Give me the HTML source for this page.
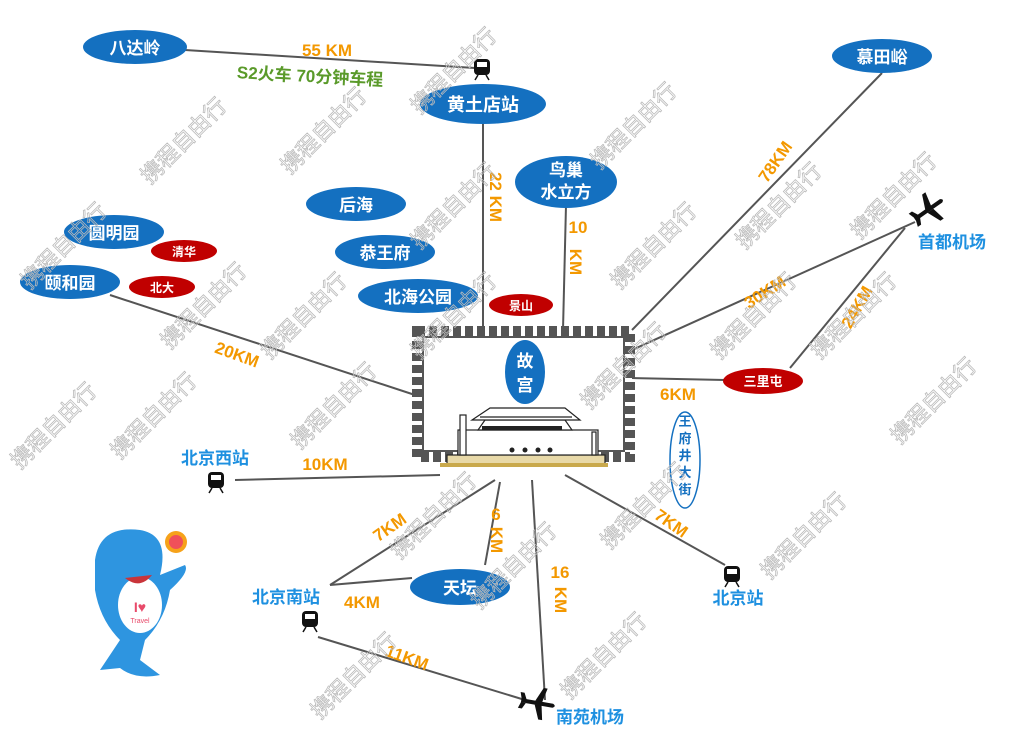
<!DOCTYPE html>
<html><head><meta charset="utf-8"><style>
html,body{margin:0;padding:0;background:#fff;}
svg{display:block;font-family:"Liberation Sans","Noto Sans CJK SC",sans-serif;}
.b{fill:#1470c0}
.r{fill:#c00000}
.wt{fill:#fff;font-weight:bold;text-anchor:middle}
.o{fill:#f39800;font-weight:bold;font-size:17px;text-anchor:middle}
.bl{fill:#1e90e0;font-weight:bold;font-size:17px;text-anchor:middle}
.ln{stroke:#555;stroke-width:2;fill:none}
.wm{fill:none;stroke:#bbb;stroke-width:0.8;font-size:22px}
</style></head><body>
<svg width="1019" height="732" viewBox="0 0 1019 732">
<!-- lines -->
<line class="ln" x1="185" y1="50" x2="475" y2="68"/>
<line class="ln" x1="483" y1="124" x2="483" y2="328"/>
<line class="ln" x1="882" y1="73" x2="632" y2="330"/>
<line class="ln" x1="566" y1="205" x2="563" y2="330"/>
<line class="ln" x1="110" y1="295" x2="415" y2="395"/>
<line class="ln" x1="632" y1="350" x2="915" y2="222"/>
<line class="ln" x1="632" y1="378" x2="725" y2="380"/>
<line class="ln" x1="790" y1="368" x2="905" y2="228"/>
<line class="ln" x1="565" y1="475" x2="725" y2="565"/>
<line class="ln" x1="235" y1="480" x2="440" y2="475"/>
<line class="ln" x1="495" y1="480" x2="330" y2="585"/>
<line class="ln" x1="330" y1="585" x2="412" y2="578"/>
<line class="ln" x1="500" y1="482" x2="485" y2="565"/>
<line class="ln" x1="318" y1="637" x2="525" y2="700"/>
<line class="ln" x1="532" y1="480" x2="545" y2="700"/>

<!-- frame -->
<rect x="417" y="331" width="213" height="126" fill="#fff" stroke="#555" stroke-width="10" stroke-dasharray="8,4"/>
<rect x="423" y="337" width="201" height="114" fill="#fff" stroke="#555" stroke-width="2"/>
<ellipse class="b" cx="525" cy="372" rx="20" ry="32"/>
<text class="wt" x="525" y="367" font-size="17">故</text>
<text class="wt" x="525" y="391" font-size="17">宫</text>
<!-- tiananmen -->
<g stroke="#222" stroke-width="1.2" fill="#fff">
<rect x="447" y="455" width="158" height="10" fill="#e8d9a8"/>
<rect x="458" y="430" width="140" height="25"/>
<path d="M478 430 L572 430 L565 420 L485 420 Z"/>
<path d="M472 420 L580 420 L565 408 L490 408 Z"/>
<path d="M480 417 L572 417" />
<rect x="460" y="415" width="6" height="40"/>
<rect x="592" y="432" width="4" height="23"/>
</g>
<g fill="#222"><rect x="482" y="426" width="80" height="4"/><circle cx="525" cy="450" r="2.5"/><circle cx="538" cy="450" r="2.5"/><circle cx="512" cy="450" r="2.5"/><circle cx="550" cy="450" r="2.5"/></g>
<rect x="440" y="463" width="168" height="4" fill="#c9a94c"/>

<!-- ellipses -->
<ellipse class="b" cx="135" cy="47" rx="52" ry="17"/><text class="wt" x="135" y="54" font-size="17">八达岭</text>
<ellipse class="b" cx="483" cy="104" rx="63" ry="20"/><text class="wt" x="483" y="111" font-size="18">黄土店站</text>
<ellipse class="b" cx="882" cy="56" rx="50" ry="17"/><text class="wt" x="882" y="63" font-size="17">慕田峪</text>
<ellipse class="b" cx="566" cy="182" rx="51" ry="26"/><text class="wt" x="566" y="176" font-size="17">鸟巢</text><text class="wt" x="566" y="198" font-size="17">水立方</text>
<ellipse class="b" cx="356" cy="204" rx="50" ry="17"/><text class="wt" x="356" y="211" font-size="17">后海</text>
<ellipse class="b" cx="385" cy="252" rx="50" ry="17"/><text class="wt" x="385" y="259" font-size="17">恭王府</text>
<ellipse class="b" cx="418" cy="296" rx="60" ry="17"/><text class="wt" x="418" y="303" font-size="17">北海公园</text>
<ellipse class="r" cx="521" cy="305" rx="32" ry="11"/><text class="wt" x="521" y="310" font-size="12">景山</text>
<ellipse class="b" cx="114" cy="232" rx="50" ry="17"/><text class="wt" x="114" y="239" font-size="17">圆明园</text>
<ellipse class="r" cx="184" cy="251" rx="33" ry="11"/><text class="wt" x="184" y="256" font-size="12">清华</text>
<ellipse class="b" cx="70" cy="282" rx="50" ry="17"/><text class="wt" x="70" y="289" font-size="17">颐和园</text>
<ellipse class="r" cx="162" cy="287" rx="33" ry="11"/><text class="wt" x="162" y="292" font-size="12">北大</text>
<ellipse class="r" cx="763" cy="381" rx="40" ry="13"/><text class="wt" x="763" y="386" font-size="13">三里屯</text>
<ellipse cx="685" cy="460" rx="15" ry="48" fill="#fff" stroke="#1470c0" stroke-width="1.5"/>
<g fill="#1470c0" font-size="13" font-weight="bold" text-anchor="middle"><text x="685" y="426">王</text><text x="685" y="443">府</text><text x="685" y="460">井</text><text x="685" y="477">大</text><text x="685" y="494">街</text></g>

<!-- labels -->
<text class="o" x="327" y="56">55 KM</text>
<text x="310" y="82" fill="#5a9a2a" font-weight="bold" font-size="17" text-anchor="middle" transform="rotate(3 310 78)">S2火车 70分钟车程</text>
<text class="o" transform="translate(490,197) rotate(90)" text-anchor="start" x="0" y="0">22 KM</text>
<text class="o" x="578" y="233">10</text>
<text class="o" transform="translate(570,250) rotate(90)" x="12" y="0">KM</text>
<text class="o" transform="translate(780,165) rotate(-55)">78KM</text>
<text class="o" transform="translate(235,360) rotate(20)">20KM</text>
<text class="o" transform="translate(768,297) rotate(-33)">30KM</text>
<text class="o" transform="translate(862,310) rotate(-60)">24KM</text>
<text class="o" x="678" y="400">6KM</text>
<text class="o" transform="translate(668,528) rotate(35)">7KM</text>
<text class="o" x="325" y="470">10KM</text>
<text class="o" transform="translate(393,532) rotate(-35)">7KM</text>
<text class="o" x="496" y="520">6</text>
<text class="o" transform="translate(491,528) rotate(90)" x="12" y="0">KM</text>
<text class="o" x="362" y="608">4KM</text>
<text class="o" transform="translate(405,663) rotate(20)">11KM</text>
<text class="o" x="560" y="578">16</text>
<text class="o" transform="translate(555,586) rotate(90)" x="14" y="0">KM</text>

<!-- blue place names -->
<text class="bl" x="952" y="248">首都机场</text>
<text class="bl" x="738" y="604">北京站</text>
<text class="bl" x="215" y="464">北京西站</text>
<text class="bl" x="286" y="603">北京南站</text>
<text class="bl" x="590" y="723">南苑机场</text>
<ellipse class="b" cx="460" cy="587" rx="50" ry="18"/><text class="wt" x="460" y="594" font-size="17">天坛</text>

<!-- trains -->
<g fill="#111">
<rect x="474" y="59" width="16" height="16" rx="4"/><rect x="217" y="472" width="16" height="16" rx="4" transform="translate(-9 0)"/>
<rect x="724" y="566" width="16" height="16" rx="4"/><rect x="302" y="611" width="16" height="16" rx="4"/>
</g>
<g fill="#fff"><rect x="477" y="62" width="10" height="5"/><rect x="211" y="475" width="10" height="5"/><rect x="727" y="569" width="10" height="5"/><rect x="305" y="614" width="10" height="5"/></g>
<g stroke="#111" stroke-width="1.5"><path d="M475 80 L478 75 M489 80 L486 75 M209 493 L212 488 M223 493 L220 488 M725 587 L728 582 M739 587 L736 582 M303 632 L306 627 M317 632 L314 627"/></g>

<!-- planes -->
<g fill="#111">
<path transform="translate(928,210) rotate(-35)" d="M-16 -2 L16 -2 Q20 0 16 2 L-16 2 Z M-2 -2 L4 -16 L8 -16 L5 -2 Z M-2 2 L4 16 L8 16 L5 2 Z M-16 -2 L-18 -8 L-14 -8 L-11 -2 Z M-16 2 L-18 8 L-14 8 L-11 2Z"/>
<path transform="translate(537,703) rotate(10)" d="M-16 -2 L16 -2 Q20 0 16 2 L-16 2 Z M-2 -2 L4 -16 L8 -16 L5 -2 Z M-2 2 L4 16 L8 16 L5 2 Z M-16 -2 L-18 -8 L-14 -8 L-11 -2 Z M-16 2 L-18 8 L-14 8 L-11 2Z"/>
</g>

<!-- dolphin -->
<g>
<path d="M95 560 Q100 525 140 530 Q170 535 160 575 L185 565 Q190 572 170 590 Q165 620 145 640 L140 660 L160 675 Q135 680 120 668 L100 670 Q110 655 120 640 Q100 620 95 590 Z" fill="#2e95e0"/>
<ellipse cx="140" cy="605" rx="22" ry="28" fill="#fff"/>
<text x="140" y="612" font-size="14" font-weight="bold" fill="#e84a6a" text-anchor="middle">I♥</text>
<text x="140" y="623" font-size="7" fill="#e84a6a" text-anchor="middle">Travel</text>
<path d="M125 578 Q140 590 152 575 Z" fill="#c9343a"/>
<circle cx="176" cy="542" r="11" fill="#f6a21a"/><circle cx="176" cy="542" r="7" fill="#f0505a"/>
</g>

<!-- watermarks -->
<g class="wm">
<text transform="translate(150,185) rotate(-45)">携程自由行</text>
<text transform="translate(290,175) rotate(-45)">携程自由行</text>
<text transform="translate(420,115) rotate(-45)">携程自由行</text>
<text transform="translate(600,170) rotate(-45)">携程自由行</text>
<text transform="translate(620,290) rotate(-45)">携程自由行</text>
<text transform="translate(745,250) rotate(-45)">携程自由行</text>
<text transform="translate(860,240) rotate(-45)">携程自由行</text>
<text transform="translate(30,290) rotate(-45)">携程自由行</text>
<text transform="translate(170,350) rotate(-45)">携程自由行</text>
<text transform="translate(270,360) rotate(-45)">携程自由行</text>
<text transform="translate(420,360) rotate(-45)">携程自由行</text>
<text transform="translate(420,250) rotate(-45)">携程自由行</text>
<text transform="translate(720,360) rotate(-45)">携程自由行</text>
<text transform="translate(820,360) rotate(-45)">携程自由行</text>
<text transform="translate(590,410) rotate(-45)">携程自由行</text>
<text transform="translate(900,445) rotate(-45)">携程自由行</text>
<text transform="translate(20,470) rotate(-45)">携程自由行</text>
<text transform="translate(120,460) rotate(-45)">携程自由行</text>
<text transform="translate(300,450) rotate(-45)">携程自由行</text>
<text transform="translate(400,560) rotate(-45)">携程自由行</text>
<text transform="translate(610,550) rotate(-45)">携程自由行</text>
<text transform="translate(770,580) rotate(-45)">携程自由行</text>
<text transform="translate(480,610) rotate(-45)">携程自由行</text>
<text transform="translate(320,720) rotate(-45)">携程自由行</text>
<text transform="translate(570,700) rotate(-45)">携程自由行</text>
</g>
</svg>
</body></html>
